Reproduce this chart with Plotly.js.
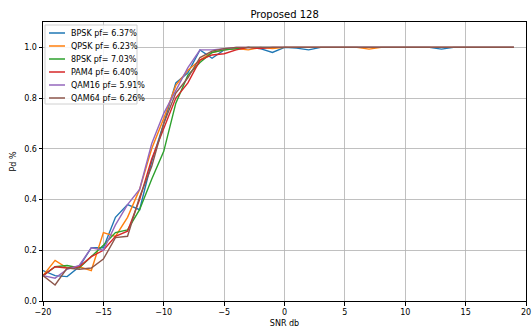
<!DOCTYPE html>
<html>
<head>
<meta charset="utf-8">
<script src="https://cdn.plot.ly/plotly-3.0.1.min.js"></script>
<style>html,body{margin:0;padding:0;background:#fff}#chart{width:532px;height:331px}</style>
</head>
<body>
<div id="chart"></div>
<script>
const snr = [];
for (let s = -20; s <= 19; s++) snr.push(s);

const seriesNames = ["BPSK pf= 6.37%", "QPSK pf= 6.23%", "8PSK pf= 7.03%", "PAM4 pf= 6.40%", "QAM16 pf= 5.91%", "QAM64 pf= 6.26%"];
const colors = ["#1f77b4", "#ff7f0e", "#2ca02c", "#d62728", "#9467bd", "#8c564b"];

const bpsk  = [0.12,0.10,0.096,0.135,0.21,0.21,0.33,0.38,0.36,0.55,0.70,0.86,0.90,0.99,0.957,0.99,0.995,1.0,0.995,0.98,1.0,0.997,0.99,1.0,1.0,1.0,1.0,1.0,1.0,1.0,1.0,1.0,1.0,0.993,1.0,1.0,1.0,1.0,1.0,1.0];
const qpsk  = [0.10,0.16,0.13,0.135,0.12,0.27,0.255,0.33,0.44,0.60,0.72,0.85,0.91,0.95,0.98,0.99,0.995,0.99,1.0,0.995,1.0,1.0,1.0,1.0,1.0,1.0,1.0,0.993,1.0,1.0,1.0,1.0,1.0,1.0,1.0,1.0,1.0,1.0,1.0,1.0];
const psk8  = [0.10,0.135,0.14,0.13,0.175,0.22,0.27,0.28,0.36,0.48,0.59,0.78,0.89,0.94,0.98,0.99,0.995,1.0,1.0,1.0,1.0,1.0,1.0,1.0,1.0,1.0,1.0,1.0,1.0,1.0,1.0,1.0,1.0,1.0,1.0,1.0,1.0,1.0,1.0,1.0];
const pam4  = [0.10,0.135,0.13,0.135,0.175,0.20,0.255,0.275,0.40,0.56,0.68,0.80,0.86,0.95,0.97,0.975,0.99,1.0,0.995,1.0,1.0,1.0,1.0,1.0,1.0,1.0,1.0,1.0,1.0,1.0,1.0,1.0,1.0,1.0,1.0,1.0,1.0,1.0,1.0,1.0];
const qam16 = [0.10,0.09,0.125,0.14,0.21,0.20,0.30,0.38,0.44,0.62,0.74,0.83,0.92,0.99,0.99,0.995,1.0,1.0,1.0,1.0,1.0,1.0,1.0,1.0,1.0,1.0,1.0,1.0,1.0,1.0,1.0,1.0,1.0,1.0,1.0,1.0,1.0,1.0,1.0,1.0];
const qam64 = [0.10,0.063,0.13,0.125,0.13,0.165,0.25,0.255,0.41,0.53,0.70,0.82,0.88,0.96,0.985,0.995,1.0,1.0,1.0,1.0,1.0,1.0,1.0,1.0,1.0,1.0,1.0,1.0,1.0,1.0,1.0,1.0,1.0,1.0,1.0,1.0,1.0,1.0,1.0,1.0];

const allSeries = [bpsk, qpsk, psk8, pam4, qam16, qam64];
const traces = allSeries.map((ys, i) => ({
  x: snr, y: ys, name: seriesNames[i], type: "scatter", mode: "lines",
  line: {color: colors[i], width: 1.4}
}));

// Matplotlib-style legend drawn in paper space (compact spacing)
const M = {l: 43, r: 6, t: 22, b: 30}, W = 532, H = 331;
const pw = W - M.l - M.r, ph = H - M.t - M.b;
const px = p => (p - M.l) / pw;
const py = p => (H - M.b - p) / ph;
const shapes = [{
  type: "rect", xref: "paper", yref: "paper",
  x0: px(45), x1: px(137), y0: py(104), y1: py(25),
  fillcolor: "rgba(255,255,255,0.85)", line: {color: "#d0d0d0", width: 1}, layer: "above"
}];
const annotations = [];
seriesNames.forEach((n, i) => {
  const yy = 33 + 13 * i;
  shapes.push({type: "line", xref: "paper", yref: "paper", x0: px(49), x1: px(65), y0: py(yy), y1: py(yy),
    line: {color: colors[i], width: 1.5}, layer: "above"});
  annotations.push({xref: "paper", yref: "paper", x: px(69), y: py(yy), xanchor: "left", yanchor: "middle",
    text: n, showarrow: false, font: {family: "DejaVu Sans, sans-serif", size: 8, color: "#000"}});
});

const font = {family: "DejaVu Sans, sans-serif", size: 8, color: "#000"};
const layout = {
  width: W, height: H,
  margin: M,
  paper_bgcolor: "#fff", plot_bgcolor: "#fff",
  font: font,
  showlegend: false,
  title: {text: "Proposed 128", font: {family: "DejaVu Sans, sans-serif", size: 10, color: "#000"}, x: 0.535, xanchor: "center", y: 0.968, yanchor: "top"},
  xaxis: {
    range: [-20, 20], tickvals: [-20,-15,-10,-5,0,5,10,15,20],
    showgrid: true, gridcolor: "#b0b0b0", gridwidth: 0.8, zeroline: false,
    showline: true, linecolor: "#000", linewidth: 1, mirror: true,
    ticks: "outside", ticklen: 3.5, tickcolor: "#000",
    tickfont: font,
    title: {text: "SNR db", font: font, standoff: 4}
  },
  yaxis: {
    range: [0, 1.1], tickvals: [0,0.2,0.4,0.6,0.8,1.0], tickformat: ".1f",
    showgrid: true, gridcolor: "#b0b0b0", gridwidth: 0.8, zeroline: false,
    showline: true, linecolor: "#000", linewidth: 1, mirror: true,
    ticks: "outside", ticklen: 3.5, tickcolor: "#000",
    tickfont: font,
    title: {text: "Pd %", font: font, standoff: 6}
  },
  shapes: shapes,
  annotations: annotations
};

Plotly.newPlot("chart", traces, layout, {displayModeBar: false, staticPlot: true});
</script>
</body>
</html>
